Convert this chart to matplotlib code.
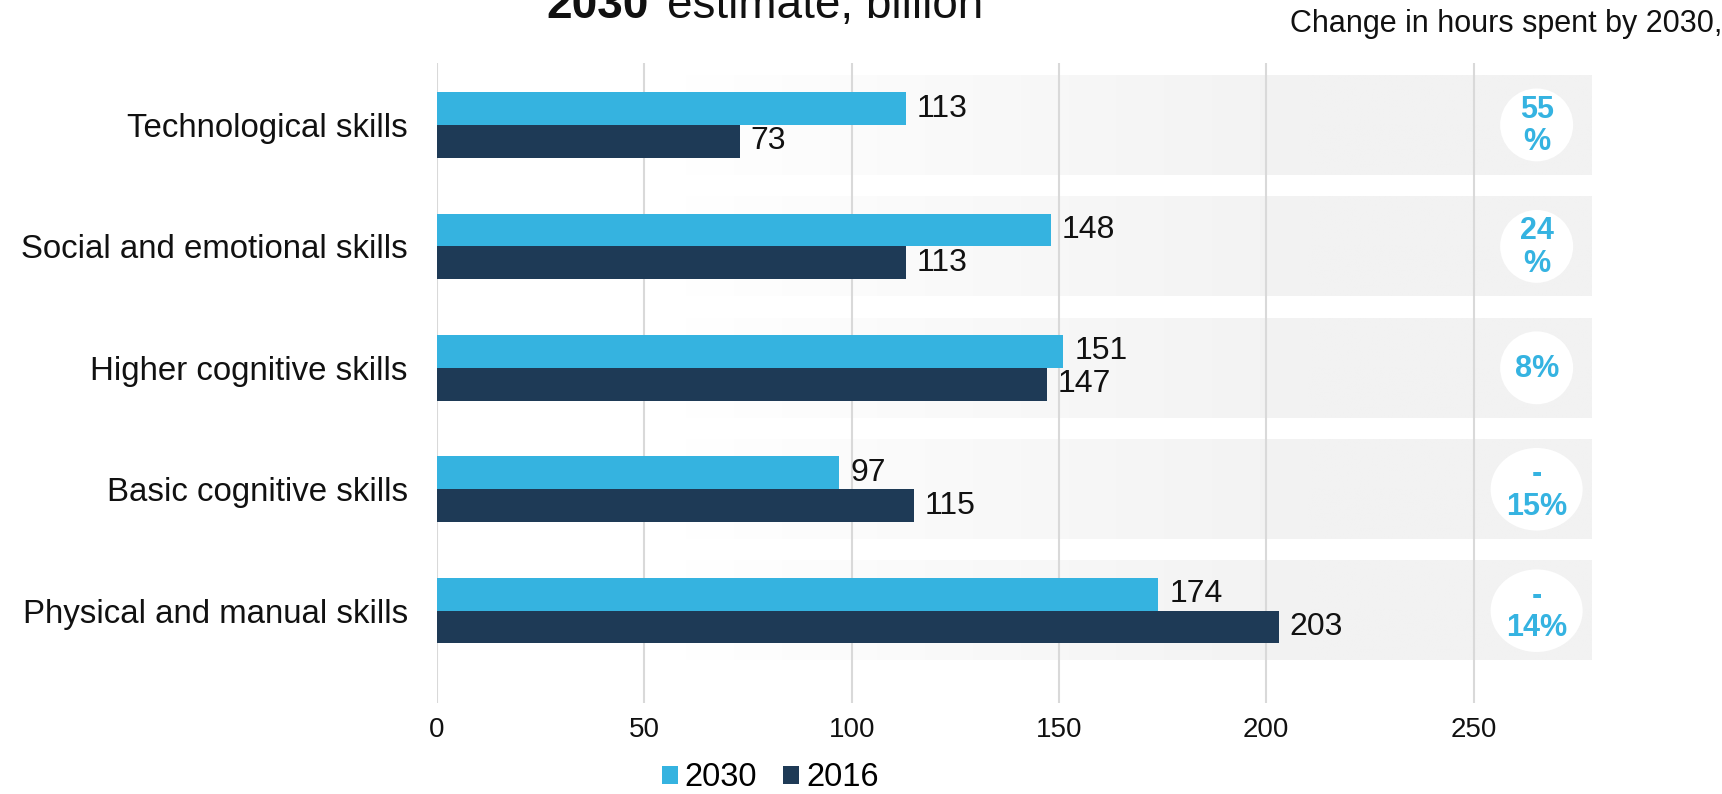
import matplotlib
matplotlib.use("Agg")
import matplotlib.pyplot as plt
from matplotlib.patches import Ellipse, Patch
import numpy as np

plt.rcParams['font.family'] = ['Liberation Sans', 'DejaVu Sans']

skills = ['Technological skills', 'Social and emotional skills', 'Higher cognitive skills',
          'Basic cognitive skills', 'Physical and manual skills']
hours_2030 = [113, 148, 151, 97, 174]
hours_2016 = [73, 113, 147, 115, 203]
change_labels = ['55\n%', '24\n%', '8%', '-\n15%', '-\n14%']
xticks = [0, 50, 100, 150, 200, 250]

c2030 = '#35b3e0'
c2016 = '#1e3a56'
blue_txt = '#35b3e1'
ink = '#111111'

fig = plt.figure(figsize=(17.22, 7.94), dpi=100)
ax = fig.add_axes([437 / 1722, 1 - 703 / 794, 1161 / 1722, 640 / 794])

y = np.arange(len(skills))
h = 0.27

# grey bands behind each category, fading in from the left
xs = np.linspace(0, 278.5, 600)
t = np.clip((xs - 60) / 150, 0, 1)
grey = np.array([0xf2, 0xf2, 0xf2]) / 255
rgb = (1 - t)[:, None] * np.ones(3) + t[:, None] * grey
grad = rgb[None, :, :]
for yi in y:
    ax.imshow(grad, extent=(0, 278.5, yi + 0.41, yi - 0.41), aspect='auto',
              interpolation='bilinear', zorder=0.2)

ax.barh(y - h / 2, hours_2030, height=h, color=c2030, zorder=3)
ax.barh(y + h / 2, hours_2016, height=h, color=c2016, zorder=3)

for yi, v in zip(y, hours_2030):
    ax.annotate(str(v), (v, yi - h / 2), xytext=(8, 0), textcoords='offset points',
                va='center', ha='left', fontsize=23, color=ink, zorder=5)
for yi, v in zip(y, hours_2016):
    ax.annotate(str(v), (v, yi + h / 2), xytext=(8, 0), textcoords='offset points',
                va='center', ha='left', fontsize=23, color=ink, zorder=5)

# change badges on the right
cx = 265.2
for yi, lab in zip(y, change_labels):
    if lab.startswith('-'):
        w, eh = 22.2, 0.68
    else:
        w, eh = 17.6, 0.60
    ax.add_patch(Ellipse((cx, yi), w, eh, facecolor='white', edgecolor='none', zorder=4))
    ax.text(cx, yi + 0.01, lab, ha='center', va='center', fontsize=22, fontweight='bold',
            color=blue_txt, linespacing=1.1, zorder=5)

ax.set_xlim(0, 280)
ax.set_ylim(4.76, -0.51)
ax.set_xticks(xticks)
ax.set_yticks(y)
ax.set_yticklabels(skills)
ax.tick_params(axis='y', length=0, pad=21, labelsize=23.8, labelcolor=ink)
ax.tick_params(axis='x', length=0, pad=10, labelsize=20, labelcolor=ink)
ax.set_axisbelow(True)
ax.grid(axis='x', color='#d9d9d9', linewidth=1.5)
for s in ax.spines.values():
    s.set_visible(False)

fig.text(546 / 1722, 1 - 18 / 794, '2030', fontsize=33, fontweight='bold',
         color=ink, ha='left', va='baseline')
fig.text(983 / 1722, 1 - 18 / 794, 'estimate, billion', fontsize=33,
         color=ink, ha='right', va='baseline')
fig.text(1290 / 1722, 1 - 32 / 794, 'Change in hours spent by 2030,', fontsize=22,
         color=ink, ha='left', va='baseline')

handles = [Patch(facecolor=c2030), Patch(facecolor=c2016)]
fig.legend(handles, ['2030', '2016'], loc='center', bbox_to_anchor=(770 / 1722, 1 - 778 / 794),
           ncol=2, frameon=False, fontsize=23.5, handlelength=0.5, handleheight=0.5,
           handletextpad=0.2, columnspacing=0.8, borderpad=0, borderaxespad=0)

fig.savefig('out.png', dpi=100)
